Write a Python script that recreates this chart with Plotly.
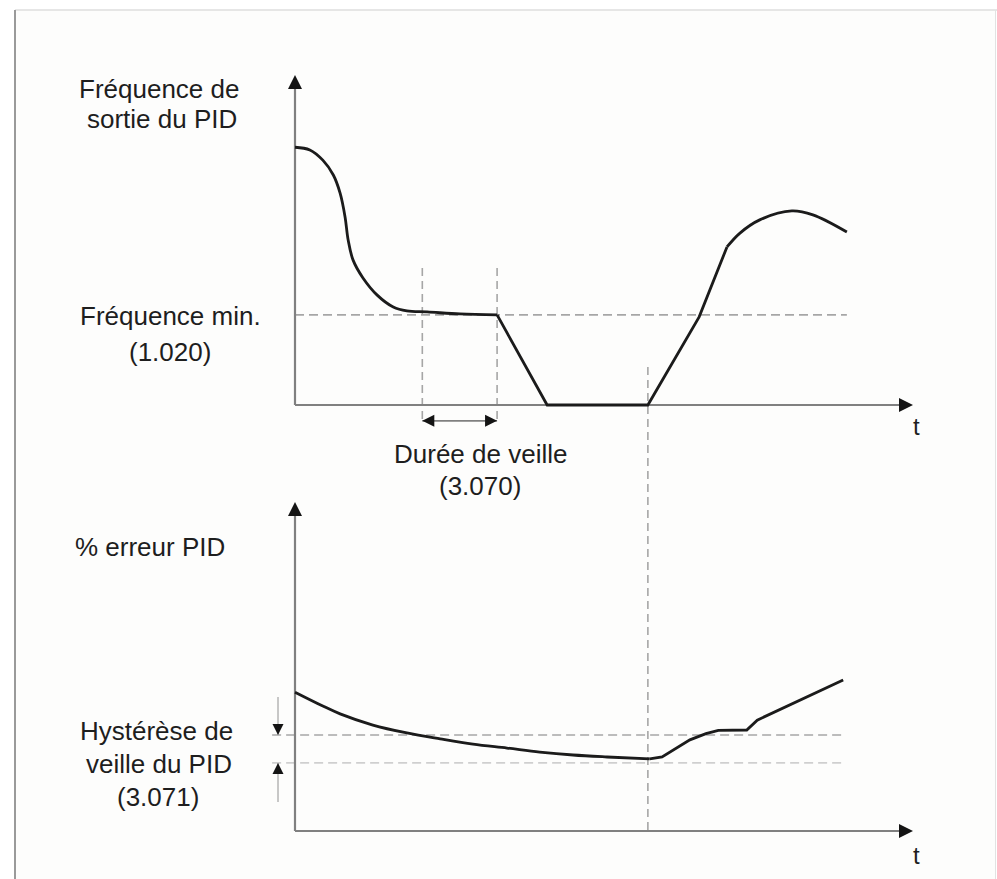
import plotly.graph_objects as go

W, H = 997, 879

# ---------------- data (time in % of axis length, values in % of axis height) ----------------
# Top panel: PID output frequency
t_decay = [0, 2.4, 4.5, 6.2, 7.3, 8.1, 8.6, 9.4, 11.0, 13.3, 15.9, 18.1, 21.4, 26.7, 32.7]
f_decay = [78.1, 77.3, 74.2, 69.7, 64.2, 57.0, 50.0, 43.9, 38.5, 33.3, 29.7, 28.5, 28.2, 27.6, 27.3]
t_ramp = [32.7, 40.8, 57.1, 65.4, 69.9]
f_ramp = [27.3, 0.0, 0.0, 26.7, 47.9]
t_peak = [69.9, 72.0, 75.2, 80.4, 83.8, 89.3]
f_peak = [47.9, 52.1, 56.1, 58.8, 57.6, 52.4]
f_min_level = 27.3
t_min_line_end = 89.3
t_sleep = [20.6, 32.7]
sleep_guides_f = [41.5, -5.5]
sleep_arrow_f = -4.8
t_wake = 57.1

# Bottom panel: % PID error
t_err_fall = [0, 4.5, 7.3, 12.6, 18.1, 23.5, 28.8, 34.3, 39.6, 45.0, 50.5, 57.4]
e_err_fall = [42.2, 38.0, 35.6, 32.2, 29.8, 28.0, 26.4, 25.2, 24.0, 23.1, 22.5, 21.9]
t_err_rise = [57.4, 59.4, 63.9, 66.5, 68.5, 73.1, 74.8, 88.7]
e_err_rise = [21.9, 22.5, 27.7, 29.6, 30.6, 30.7, 33.7, 45.9]
hyst_upper = 29.2
hyst_lower = 20.7
hyst_t_range = [-3.7, 89.0]
hyst_arrow_t = -2.75
hyst_down_stem = [40.7, 29.2]
hyst_up_stem = [8.8, 20.7]

AXIS_END = 100

# ---------------- pixel geometry of the two panels ----------------
X0, PX_T = 295, 6.18          # pixel of t=0, pixels per unit t
X_LEFT, X_RIGHT = 255, 935
Y0_TOP, PX_F = 405, 3.30
TOP_BOT, TOP_TOP = 440, 65
Y0_BOT, PX_E = 831, 3.29
BOT_BOT, BOT_TOP = 845, 490


def px_x(p):
    return p / W


def px_y(p):
    return 1 - p / H


x_range = [(X_LEFT - X0) / PX_T, (X_RIGHT - X0) / PX_T]
x_domain = [px_x(X_LEFT), px_x(X_RIGHT)]
y1_range = [(Y0_TOP - TOP_BOT) / PX_F, (Y0_TOP - TOP_TOP) / PX_F]
y1_domain = [px_y(TOP_BOT), px_y(TOP_TOP)]
y2_range = [(Y0_BOT - BOT_BOT) / PX_E, (Y0_BOT - BOT_TOP) / PX_E]
y2_domain = [px_y(BOT_BOT), px_y(BOT_TOP)]

CURVE = "#1b1b1b"
AXIS = "#808080"
HEAD = "#141414"
DASH = "#a6a6a6"
DASH_LIGHT = "#cfcfcf"

fig = go.Figure()


def line(x, y, color, width, axes, dash=None, shape="linear"):
    xa, ya = axes
    fig.add_trace(go.Scatter(x=x, y=y, mode="lines", xaxis=xa, yaxis=ya,
                             line=dict(color=color, width=width, dash=dash, shape=shape),
                             hoverinfo="skip", showlegend=False))


def head(x, y, symbol, size, axes):
    xa, ya = axes
    fig.add_trace(go.Scatter(x=[x], y=[y], mode="markers", xaxis=xa, yaxis=ya,
                             marker=dict(symbol=symbol, size=size, color=HEAD,
                                         line=dict(width=0)),
                             hoverinfo="skip", showlegend=False))


TOP = ("x", "y")
BOT = ("x2", "y2")

# ---- top panel ----
line([0, t_min_line_end], [f_min_level, f_min_level], DASH, 1.6, TOP, dash="9px,5px")
for ts in t_sleep:
    line([ts, ts], sleep_guides_f, DASH, 1.6, TOP, dash="8px,5px")
line([0, 0], [0, AXIS_END - 3], AXIS, 2.2, TOP)
line([0, AXIS_END - 2], [0, 0], AXIS, 2.2, TOP)
head(0, AXIS_END, "arrow-up", 14, TOP)
head(AXIS_END, 0, "arrow-right", 14, TOP)
line(t_decay, f_decay, CURVE, 2.8, TOP, shape="spline")
line(t_ramp, f_ramp, CURVE, 2.8, TOP)
line(t_peak, f_peak, CURVE, 2.8, TOP, shape="spline")
line(t_sleep, [sleep_arrow_f, sleep_arrow_f], AXIS, 1.6, TOP)
head(t_sleep[0], sleep_arrow_f, "arrow-left", 12, TOP)
head(t_sleep[1], sleep_arrow_f, "arrow-right", 12, TOP)

# ---- bottom panel ----
line(hyst_t_range, [hyst_upper, hyst_upper], DASH, 1.6, BOT, dash="9px,5px")
line(hyst_t_range, [hyst_lower, hyst_lower], DASH_LIGHT, 1.6, BOT, dash="9px,5px")
line([0, 0], [0, AXIS_END - 3], AXIS, 2.2, BOT)
line([0, AXIS_END - 2], [0, 0], AXIS, 2.2, BOT)
head(0, AXIS_END, "arrow-up", 14, BOT)
head(AXIS_END, 0, "arrow-right", 14, BOT)
line(t_err_fall, e_err_fall, CURVE, 2.8, BOT, shape="spline")
line(t_err_rise, e_err_rise, CURVE, 2.8, BOT)
line([hyst_arrow_t, hyst_arrow_t], hyst_down_stem, "#b5b5b5", 1.5, BOT)
head(hyst_arrow_t, hyst_down_stem[1], "arrow-down", 11, BOT)
line([hyst_arrow_t, hyst_arrow_t], hyst_up_stem, "#b5b5b5", 1.5, BOT)
head(hyst_arrow_t, hyst_up_stem[1], "arrow-up", 11, BOT)

# ---- frame and wake-up guide crossing both panels ----
shapes = [
    dict(type="rect", xref="paper", yref="paper", x0=px_x(15), x1=px_x(996),
         y0=px_y(879), y1=px_y(10), fillcolor="#fdfdfc", line=dict(width=0), layer="below"),
    dict(type="line", xref="paper", yref="paper", x0=px_x(15), x1=px_x(997),
         y0=px_y(10), y1=px_y(10), line=dict(color="#dedede", width=1.5)),
    dict(type="line", xref="paper", yref="paper", x0=px_x(15), x1=px_x(15),
         y0=px_y(10), y1=px_y(879), line=dict(color="#9a9a9a", width=2)),
    dict(type="line", xref="paper", yref="paper", x0=px_x(995.5), x1=px_x(995.5),
         y0=px_y(10), y1=px_y(879), line=dict(color="#e2e2e2", width=1)),
    dict(type="line", xref="x", yref="paper", x0=t_wake, x1=t_wake,
         y0=px_y(367), y1=px_y(832), line=dict(color=DASH, width=1.6, dash="8px,5px"),
         layer="below"),
]

FONT = "Liberation Sans, Arial, sans-serif"
labels = [
    ("Fréquence de", 159, 89),
    ("sortie du PID", 162, 119),
    ("Fréquence min.", 170, 316),
    ("(1.020)", 170, 352),
    ("Durée de veille", 480, 454),
    ("(3.070)", 480, 486),
    ("% erreur PID", 150, 547),
    ("Hystérèse de", 156, 731),
    ("veille du PID", 159, 764),
    ("(3.071)", 158, 797),
    ("t", 916, 426),
    ("t", 916, 855),
]
annotations = [dict(text=s, x=px_x(cx), y=px_y(cy), xref="paper", yref="paper",
                    xanchor="center", yanchor="middle", showarrow=False,
                    font=dict(family=FONT, size=26 if s != "t" else 24, color="#1e1e1e"))
               for s, cx, cy in labels]

axis_common = dict(visible=False, fixedrange=True)
fig.update_layout(
    width=W, height=H, margin=dict(l=0, r=0, t=0, b=0),
    paper_bgcolor="white", plot_bgcolor="rgba(0,0,0,0)",
    showlegend=False, hovermode=False,
    xaxis=dict(domain=x_domain, range=x_range, anchor="y", **axis_common),
    yaxis=dict(domain=y1_domain, range=y1_range, anchor="x", **axis_common),
    xaxis2=dict(domain=x_domain, range=x_range, anchor="y2", **axis_common),
    yaxis2=dict(domain=y2_domain, range=y2_range, anchor="x2", **axis_common),
    shapes=shapes, annotations=annotations,
)

fig.write_html("out.html", config={"displayModeBar": False},
               post_script="document.body.style.margin='0';document.body.style.overflow='hidden';")
